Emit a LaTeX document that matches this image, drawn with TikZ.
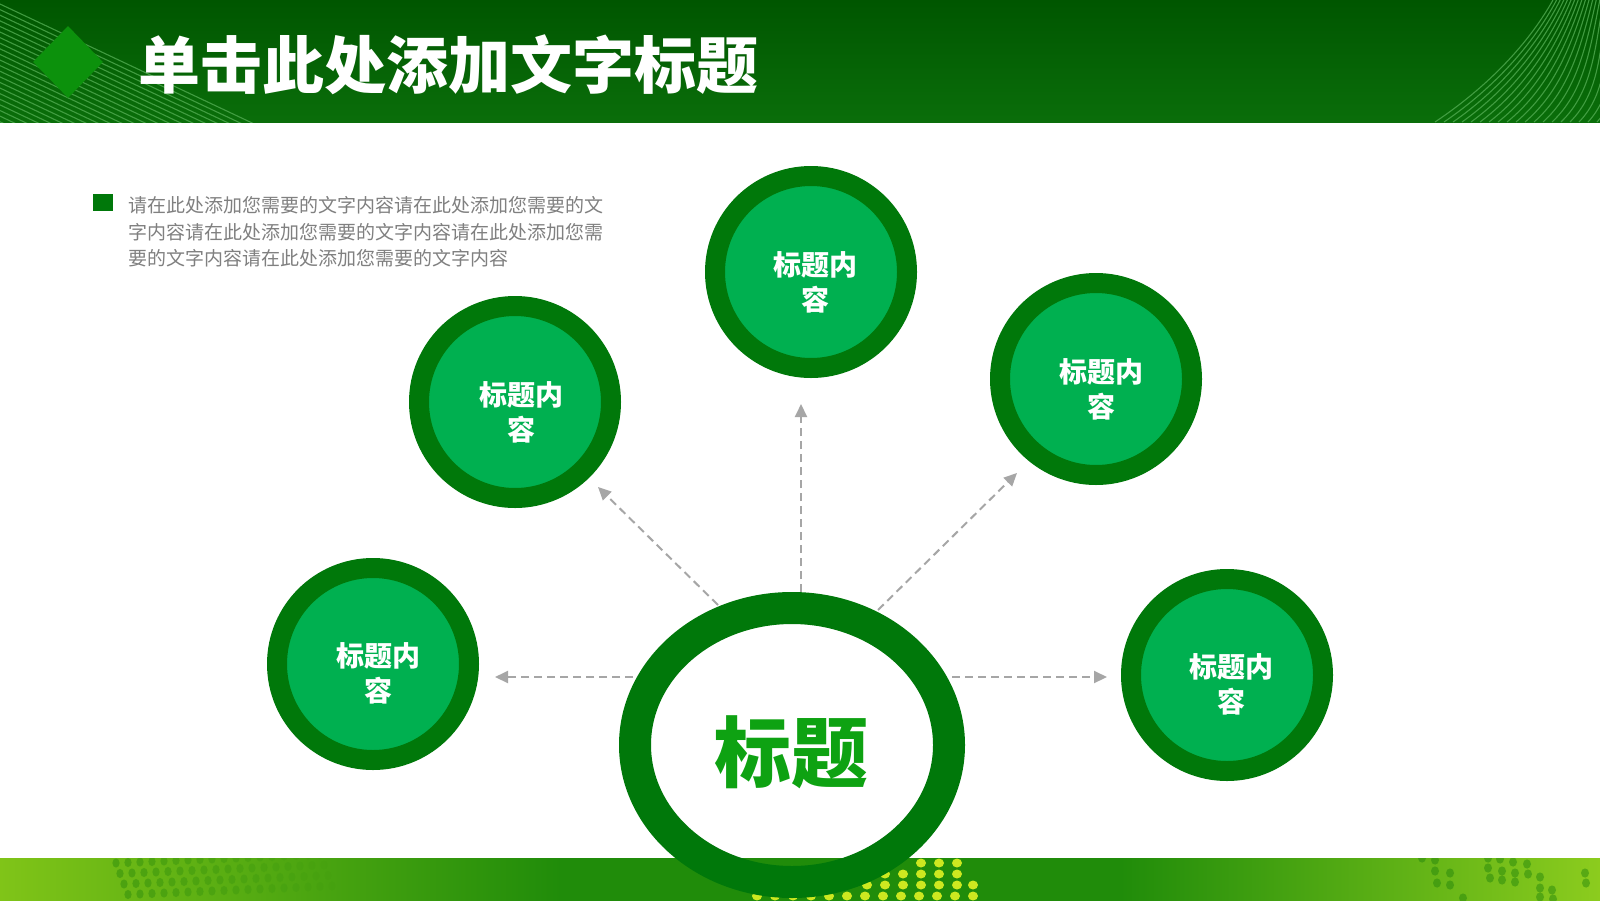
\documentclass[tikz,border=0pt]{standalone}
\usepackage{fontspec}
\newfontfamily\cjk{Noto Sans CJK SC}
\usetikzlibrary{shapes.geometric,arrows.meta,calc}
\definecolor{hdtop}{RGB}{0,86,0}
\definecolor{hdbot}{RGB}{10,110,10}
\definecolor{hline}{RGB}{80,170,80}
\definecolor{diagreen}{RGB}{12,145,12}
\definecolor{ringgreen}{RGB}{0,120,10}
\definecolor{innergreen}{RGB}{0,176,80}
\definecolor{titlegreen}{RGB}{14,162,18}
\definecolor{arrgray}{RGB}{166,166,166}
\definecolor{paragray}{RGB}{128,128,128}
\definecolor{bandleft}{RGB}{128,196,24}
\definecolor{bandmid}{RGB}{32,140,10}
\definecolor{bandright}{RGB}{140,204,30}
\definecolor{dotdark}{RGB}{30,130,10}
\definecolor{dotyellow}{RGB}{205,232,32}
\begin{document}
\begin{tikzpicture}[x=1pt,y=-1pt,
  hstripe/.style={draw=hline, line width=1.1pt, opacity=0.8},
  smallc/.style={circle, fill=innergreen, draw=ringgreen, line width=20pt, minimum size=192pt, inner sep=0pt},
  stxt/.style={text=white, font=\cjk\bfseries\fontsize{28}{35}\selectfont, align=center, inner sep=0pt},
  ptxt/.style={anchor=base west, text=paragray, font=\cjk\fontsize{19}{19}\selectfont, inner sep=0pt},
  arr/.style={draw=arrgray, line width=2pt, dash pattern=on 8pt off 5pt, -{Triangle[length=13pt,width=12pt]}},
  ddot/.style={fill=dotdark},
  ydot/.style={fill=dotyellow}]
\useasboundingbox (0,0) rectangle (1600,900);
\fill[white] (0,0) rectangle (1600,900);
% header
\shade[top color=hdtop, bottom color=hdbot] (0,0) rectangle (1600,122);
\begin{scope}
  \clip (0,0) rectangle (1600,122);
  \foreach \i in {0,...,22}
    \draw[hstripe] (-20,{4+5.6*\i-9.4}) -- ({250-11.9*\i+20},{122+9.4});
  \foreach \i in {0,...,20}
    \draw[hstripe] ({1435+9*\i},122) .. controls ({1480+8*\i},92) and ({1525+5*\i},50) .. ({1553+3.6*\i},0);
\end{scope}
\node[diamond, fill=diagreen, minimum width=70pt, minimum height=72pt, inner sep=0pt] (dia) at (68,62) {};
\node[anchor=base west, text=white, font=\cjk\bfseries\fontsize{62}{62}\selectfont, inner sep=0pt] (title) at (138,88) {单击此处添加文字标题};
% paragraph
\node[fill=ringgreen, minimum width=20pt, minimum height=17pt, inner sep=0pt] (bul) at (103,202.5) {};
\node[ptxt] (p1) at (128,212) {请在此处添加您需要的文字内容请在此处添加您需要的文};
\node[ptxt] (p2) at (128,239) {字内容请在此处添加您需要的文字内容请在此处添加您需};
\node[ptxt] (p3) at (128,265) {要的文字内容请在此处添加您需要的文字内容};
% arrows
\coordinate (s1) at (718,605); \coordinate (t1) at (598,487);
\coordinate (s2) at (801,592); \coordinate (t2) at (801,404);
\coordinate (s3) at (878,610); \coordinate (t3) at (1017,473);
\coordinate (s4) at (633,677); \coordinate (t4) at (495,677);
\coordinate (s5) at (952,677); \coordinate (t5) at (1107,677);
\foreach \k in {1,...,5} \draw[arr] (s\k) -- (t\k);
% small circles
\node[smallc] (ca) at (515,402) {};
\node[stxt] (ta) at (521,412) {标题内\\容};
\node[smallc] (cb) at (811,272) {};
\node[stxt] (tb) at (815,282) {标题内\\容};
\node[smallc] (cc) at (1096,379) {};
\node[stxt] (tc) at (1101,389) {标题内\\容};
\node[smallc] (cd) at (373,664) {};
\node[stxt] (td) at (378,673) {标题内\\容};
\node[smallc] (ce) at (1227,675) {};
\node[stxt] (te) at (1231,684) {标题内\\容};
% central ellipse fill
\node[ellipse, fill=white, minimum width=314pt, minimum height=274pt, inner sep=0pt] (ctr) at (792,745) {};
\node[text=titlegreen, font=\cjk\bfseries\fontsize{77}{77}\selectfont, inner sep=0pt] (ct) at (791,752) {标题};
% bottom band
\fill[bandmid] (540,858) rectangle (1140,906);
\shade[left color=bandleft, right color=bandmid] (0,858) rectangle (561,906);
\shade[left color=bandmid, right color=bandright] (1120,858) rectangle (1600,906);
\begin{scope}
  \clip (0,858) rectangle (1600,900);
  \foreach \r in {0,...,3}
    \foreach \c in {0,...,17}
      \fill[ddot, opacity={0.4*(1-\c/19)}] ({116+12*\c+4*\r},{863+10.5*\r-1.5*\c/3}) ellipse[x radius=3.6, y radius=4.6];
  \foreach \p in {(1422,858),(1435,860),(1435,871),(1450,873),(1437,883),(1450,885),(1463,898),
    (1488,858),(1500,859),(1513,862),(1527,864),(1488,868),(1502,871),(1515,873),(1528,874),(1540,877),
    (1490,878),(1502,880),(1515,882),(1540,888),(1552,890),(1540,897),(1553,899),(1585,873),(1586,883)}
    \fill[ddot, opacity=0.45] \p ellipse[x radius=4, y radius=4.6];
  \foreach \x in {921,939,957} \fill[ydot] (\x,863) ellipse[x radius=5, y radius=4.5];
  \foreach \x in {885,903,921,939,957} \fill[ydot] (\x,874) ellipse[x radius=5, y radius=4.5];
  \foreach \x in {867,885,903,921,939,957,973} \fill[ydot] (\x,885) ellipse[x radius=5, y radius=4.5];
  \foreach \x in {757,775,...,975} \fill[ydot] (\x,896) ellipse[x radius=5, y radius=4.5];
\end{scope}
% central ring
\draw[ringgreen, line width=32pt] (ctr.center) ellipse[x radius=157, y radius=137];
\end{tikzpicture}
\end{document}
